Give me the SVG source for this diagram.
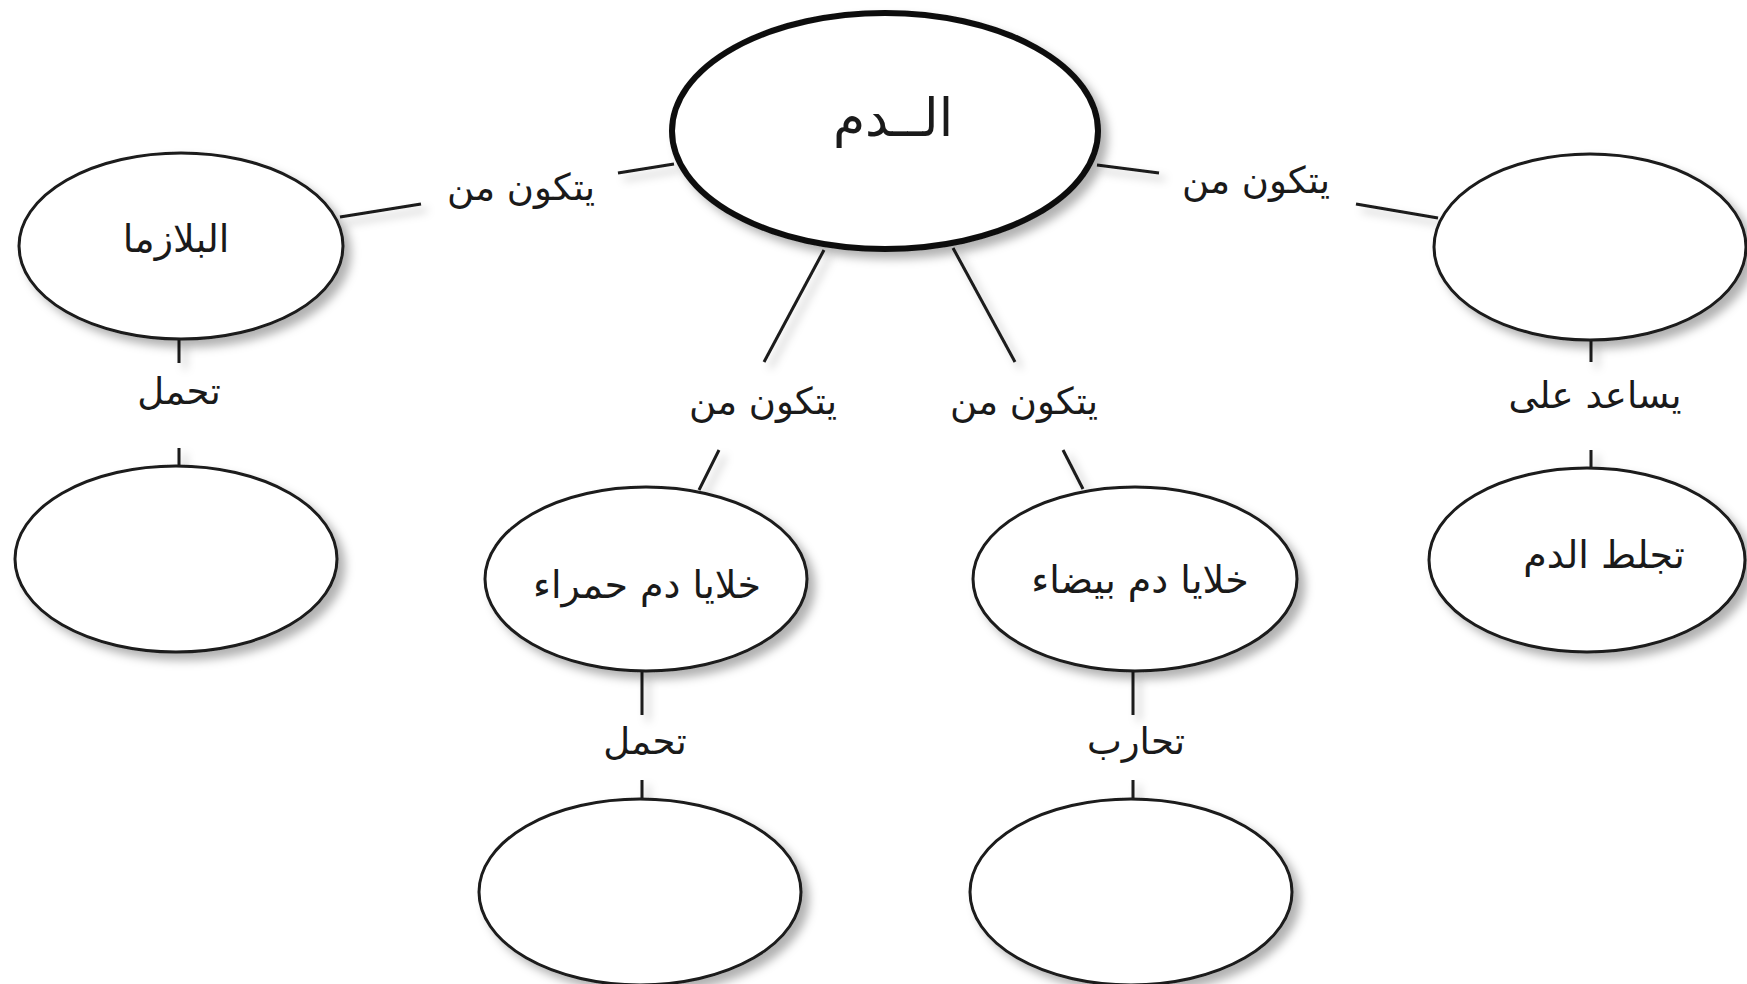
<svg xmlns="http://www.w3.org/2000/svg" width="1747" height="984" viewBox="0 0 1747 984">
<defs>
<filter id="sh" x="-20%" y="-20%" width="150%" height="150%">
<feDropShadow dx="7" dy="7" stdDeviation="5" flood-color="#000" flood-opacity="0.3"/>
</filter>
<filter id="lsh" filterUnits="userSpaceOnUse" x="0" y="0" width="1747" height="984">
<feDropShadow dx="6" dy="6" stdDeviation="4" flood-color="#000" flood-opacity="0.25"/>
</filter>
</defs>
<style>
.node{fill:#fff;stroke:#1a1a1a;stroke-width:3;filter:url(#sh)}
.main{fill:#fff;stroke:#111;stroke-width:6;filter:url(#sh)}
.con line{stroke:#1a1a1a;stroke-width:3;stroke-linecap:butt;filter:url(#lsh)}
text{font-family:"DejaVu Sans","Noto Sans",sans-serif;fill:#1a1a1a;text-anchor:middle}
.lbl{font-size:37px}
.ntx{font-size:38px}
.big{font-size:52px}
</style>
<rect width="1747" height="984" fill="#fff"/>
<g id="connectors" class="con">
<line x1="340" y1="217" x2="421" y2="204"/>
<line x1="618" y1="173" x2="674" y2="164"/>
<line x1="1097" y1="165" x2="1159" y2="173"/>
<line x1="1356" y1="204" x2="1438" y2="218"/>
<line x1="824" y1="250" x2="764" y2="362"/>
<line x1="719" y1="450" x2="699" y2="490"/>
<line x1="953" y1="248" x2="1015" y2="362"/>
<line x1="1063" y1="450" x2="1083" y2="489"/>
<line x1="179" y1="339" x2="179" y2="363"/>
<line x1="179" y1="448" x2="179" y2="467"/>
<line x1="1591" y1="339" x2="1591" y2="362"/>
<line x1="1591" y1="450" x2="1591" y2="468"/>
<line x1="642" y1="672" x2="642" y2="715"/>
<line x1="642" y1="780" x2="642" y2="800"/>
<line x1="1133" y1="672" x2="1133" y2="715"/>
<line x1="1133" y1="780" x2="1133" y2="800"/>
<text class="lbl" x="521" y="200">يتكون من</text>
<text class="lbl" x="1256" y="193">يتكون من</text>
<text class="lbl" x="763" y="414">يتكون من</text>
<text class="lbl" x="1024" y="414">يتكون من</text>
<text class="lbl" x="179" y="404">تحمل</text>
<text class="lbl" x="1595" y="408">يساعد على</text>
<text class="lbl" x="645" y="754">تحمل</text>
<text class="lbl" x="1136" y="754">تحارب</text>
</g>
<g id="node-blood">
<ellipse class="main" cx="885" cy="131" rx="213" ry="118"/>
<text class="big" x="893" y="136">الــدم</text>
</g>
<g id="node-plasma">
<ellipse class="node" cx="181" cy="246" rx="162" ry="93"/>
<text class="ntx" x="176" y="252">البلازما</text>
</g>
<g id="node-plasma-carries">
<ellipse class="node" cx="176" cy="559" rx="161" ry="93"/>
</g>
<g id="node-platelets">
<ellipse class="node" cx="1590" cy="247" rx="156" ry="93"/>
</g>
<g id="node-clotting">
<ellipse class="node" cx="1587" cy="560" rx="158" ry="92"/>
<text class="ntx" x="1604" y="568">تجلط الدم</text>
</g>
<g id="node-red">
<ellipse class="node" cx="646" cy="579" rx="161" ry="92"/>
<text class="ntx" x="647" y="598">خلايا دم حمراء</text>
</g>
<g id="node-white">
<ellipse class="node" cx="1135" cy="579" rx="162" ry="92"/>
<text class="ntx" x="1140" y="593">خلايا دم بيضاء</text>
</g>
<g id="node-red-carries">
<ellipse class="node" cx="640" cy="892" rx="161" ry="93"/>
</g>
<g id="node-white-fights">
<ellipse class="node" cx="1131" cy="892" rx="161" ry="93"/>
</g>
</svg>
